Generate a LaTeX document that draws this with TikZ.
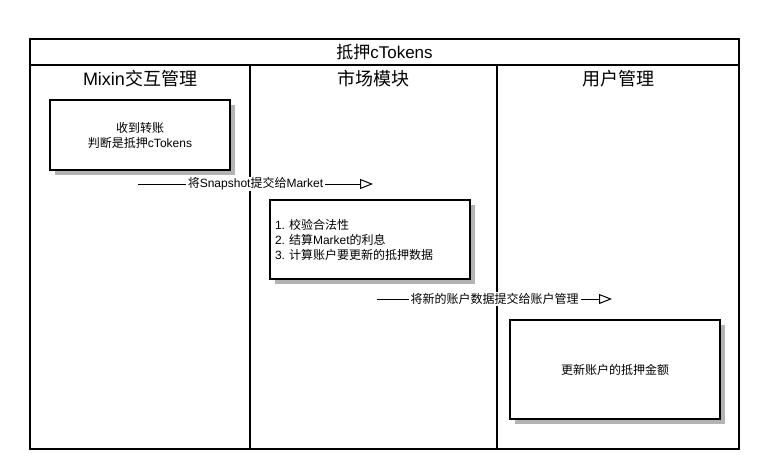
\documentclass[tikz,border=0pt]{standalone}
\usepackage{fontspec}
\setmainfont{Liberation Sans}
\newfontfamily\cjk{Noto Sans CJK SC}
\newcommand{\zh}[1]{{\cjk #1}}
\usetikzlibrary{arrows.meta,shadows}
\definecolor{shadowgray}{HTML}{B3B3B3}
\frenchspacing

\begin{document}
\begin{tikzpicture}[x=1pt, y=-1pt,
  lane/.style={line width=1.6pt},
  task/.style={draw, line width=2pt, fill=white,
    general shadow={fill=shadowgray, shadow xshift=5pt, shadow yshift=-5pt},
    font=\fontsize{12}{15}\selectfont, align=center},
  msg/.style={line width=1pt, -{Triangle[open, length=13pt, width=10pt, line width=1pt]}},
  msgtext/.style={fill=white, inner xsep=2pt, inner ysep=1pt, font=\fontsize{12}{14}\selectfont}]
\useasboundingbox (0,0) rectangle (762,469);

% Pool and lanes
\draw[lane] (30,39) rectangle (739,449);
\draw[lane] (30,65) -- (739,65);
\foreach \x in {250,497} {
    \draw[lane] (\x,65) -- (\x,449);
}

% Titles
\node[font=\fontsize{17}{20}\selectfont] (pool) at (384.5,52.5) {\zh{抵押}cTokens};
\foreach \x/\i/\txt in {140/1/{Mixin\zh{交互管理}}, 373.5/2/{\zh{市场模块}}, 618/3/{\zh{用户管理}}} {
    \node[font=\fontsize{18}{21}\selectfont] (head\i) at (\x,78.5) {\txt};
}

% Tasks
\node[task, minimum width=180pt, minimum height=70pt] (recv) at (140,135)
    {\zh{收到转账}\\\zh{判断是抵押}cTokens};
\node[task, minimum width=200pt, minimum height=79pt, inner xsep=5pt, text width=190pt, align=left] (check) at (370,239.5)
    {1. \zh{校验合法性}\\2. \zh{结算}Market\zh{的利息}\\3. \zh{计算账户要更新的抵押数据}};
\node[task, minimum width=210pt, minimum height=99pt] (update) at (615,369.5)
    {\zh{更新账户的抵押金额}};

% Messages
\coordinate (snapfrom) at (138,184);
\coordinate (snapto) at (373,184);
\draw[msg] (snapfrom) -- node[msgtext] (snaplabel) {\zh{将}Snapshot\zh{提交给}Market} (snapto);
\coordinate (userfrom) at (377,299);
\coordinate (userto) at (612,299);
\draw[msg] (userfrom) -- node[msgtext] (userlabel) {\zh{将新的账户数据提交给账户管理}} (userto);

\end{tikzpicture}
\end{document}
